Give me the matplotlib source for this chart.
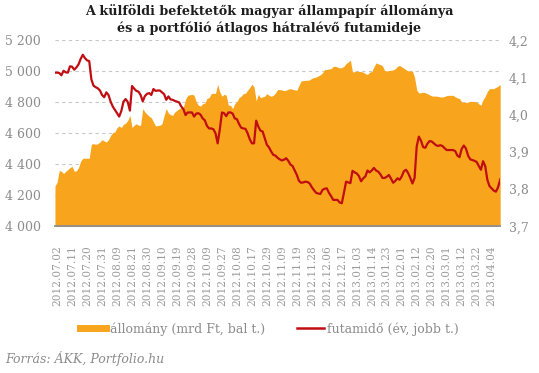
import matplotlib
matplotlib.use("Agg")
import matplotlib.pyplot as plt
from matplotlib.lines import Line2D
import numpy as np

# allomany (mrd Ft) es futamido (ev), kereskedesi napok sorszama szerint
allomany = [
    4260, 4285, 4360, 4355, 4340, 4355, 4366, 4379, 4386, 4355,
    4358, 4379, 4420, 4439, 4439, 4439, 4439, 4530, 4533, 4529,
    4533, 4544, 4559, 4550, 4544, 4559, 4587, 4604, 4609, 4637,
    4647, 4637, 4658, 4665, 4684, 4716, 4637, 4652, 4662, 4652,
    4652, 4759, 4738, 4723, 4710, 4701, 4673, 4647, 4650, 4652,
    4662, 4716, 4759, 4730, 4720, 4716, 4738, 4748, 4759, 4765,
    4770, 4820, 4845, 4848, 4852, 4845, 4802, 4781, 4775, 4791,
    4795, 4825, 4830, 4856, 4858, 4858, 4916, 4867, 4839, 4852,
    4845, 4781, 4781, 4759, 4791, 4805, 4830, 4840, 4856, 4858,
    4878, 4895, 4916, 4899, 4809, 4852, 4830, 4835, 4839, 4856,
    4845, 4839, 4845, 4860, 4882, 4882, 4880, 4875, 4878, 4885,
    4888, 4883, 4880, 4878, 4910, 4938, 4940, 4942, 4942, 4945,
    4955, 4960, 4963, 4970, 4978, 4990, 5011, 5012, 5015, 5017,
    5032, 5032, 5027, 5022, 5024, 5032, 5050, 5060, 5072, 4996,
    4998, 5000, 5000, 4998, 4994, 4985, 4979, 4995, 4998, 5028,
    5054, 5048, 5043, 5035, 5005, 5002, 5005, 5006, 5010, 5017,
    5032, 5038, 5028, 5020, 5010, 5002, 5002, 5002, 4960, 4880,
    4860, 4862, 4865, 4862, 4855, 4848, 4841, 4840, 4840, 4838,
    4834, 4834, 4838, 4843, 4845, 4845, 4845, 4835, 4828, 4824,
    4802, 4800, 4800, 4800, 4806, 4806, 4804, 4802, 4790, 4781,
    4817, 4839, 4870, 4888, 4888, 4888, 4897, 4903, 4916,
]

futamido = [
    4.113, 4.113, 4.112, 4.106, 4.118, 4.114, 4.113, 4.130, 4.129, 4.121,
    4.127, 4.135, 4.150, 4.161, 4.152, 4.146, 4.144, 4.095, 4.078, 4.074,
    4.071, 4.065, 4.053, 4.047, 4.060, 4.053, 4.035, 4.022, 4.013, 4.004,
    3.995, 4.010, 4.035, 4.042, 4.034, 4.011, 4.077, 4.070, 4.064, 4.062,
    4.053, 4.036, 4.050, 4.056, 4.058, 4.053, 4.069, 4.064, 4.065, 4.065,
    4.060, 4.055, 4.040, 4.049, 4.041, 4.040, 4.037, 4.035, 4.033, 4.022,
    4.015, 3.999, 4.006, 4.006, 4.006, 3.995, 4.003, 4.004, 4.000, 3.990,
    3.985, 3.970, 3.963, 3.963, 3.961, 3.950, 3.923, 3.960, 4.006, 4.004,
    3.996, 4.006, 4.006, 4.003, 3.990, 3.988, 3.975, 3.965, 3.963, 3.962,
    3.950, 3.934, 3.923, 3.923, 3.984, 3.968, 3.957, 3.955, 3.937, 3.919,
    3.912, 3.901, 3.892, 3.890, 3.884, 3.880, 3.877, 3.879, 3.883, 3.876,
    3.866, 3.862, 3.850, 3.838, 3.822, 3.817, 3.818, 3.820, 3.819, 3.815,
    3.805, 3.797, 3.790, 3.788, 3.787, 3.798, 3.801, 3.802, 3.790, 3.781,
    3.771, 3.771, 3.771, 3.764, 3.762, 3.790, 3.820, 3.818, 3.816, 3.849,
    3.845, 3.842, 3.835, 3.821, 3.829, 3.834, 3.850, 3.845, 3.850, 3.857,
    3.850, 3.847, 3.840, 3.830, 3.830, 3.833, 3.838, 3.828, 3.817, 3.822,
    3.829, 3.825, 3.834, 3.848, 3.852, 3.843, 3.830, 3.815, 3.830, 3.915,
    3.941, 3.930, 3.913, 3.911, 3.922, 3.929, 3.928, 3.923, 3.918, 3.916,
    3.918, 3.916, 3.910, 3.905, 3.905, 3.905, 3.905, 3.902, 3.890, 3.886,
    3.908, 3.917, 3.909, 3.890, 3.880, 3.878, 3.876, 3.873, 3.862, 3.852,
    3.875, 3.862, 3.825, 3.808, 3.802, 3.796, 3.793, 3.805, 3.826,
]

datumok = [
    "2012.07.02", "2012.07.11", "2012.07.20", "2012.07.31", "2012.08.09",
    "2012.08.21", "2012.08.30", "2012.09.10", "2012.09.19", "2012.09.28",
    "2012.10.09", "2012.09.27", "2012.10.08", "2012.10.17", "2012.10.29",
    "2012.11.09", "2012.11.19", "2012.11.28", "2012.12.06", "2012.12.17",
    "2013.01.03", "2013.01.14", "2013.01.23", "2013.02.01", "2013.02.12",
    "2013.02.20", "2013.03.01", "2013.03.12", "2013.03.22", "2013.04.04",
]
bal_tengely = [4000, 4200, 4400, 4600, 4800, 5000, 5200]
jobb_tengely = [3.7, 3.8, 3.9, 4.0, 4.1, 4.2]

NARANCS = "#F8A51D"
PIROS = "#C00D12"
SZURKE = "#8C8C8C"
SERIF = "DejaVu Serif"

napok = np.arange(len(allomany))

fig = plt.figure(figsize=(5.39, 3.73), dpi=100)
ax = fig.add_axes([0.102, 0.3933, 0.826, 0.4987])

ax.fill_between(napok, 4000, allomany, color=NARANCS, linewidth=0, zorder=1)
ax.set_xlim(0, len(allomany) - 1)
ax.set_ylim(4000, 5200)
ax.set_yticks(bal_tengely)
ax.set_yticklabels([f"{v:,}".replace(",", " ") for v in bal_tengely],
                   fontfamily=SERIF, fontsize=9, color=SZURKE)
ax.yaxis.grid(True, color="#C8C8C8", linestyle=(0, (3, 3)), linewidth=0.8)
ax.set_axisbelow(True)

tick_pos = napok[1::7][:len(datumok)]
ax.set_xticks(tick_pos)
ax.set_xticklabels(datumok, rotation=90, fontsize=7.6, color="#9A9A9A",
                   fontfamily=SERIF)
ax.tick_params(axis="both", length=0)
ax.tick_params(axis="x", pad=14)
ax.tick_params(axis="y", pad=10)

for s in ["top", "left", "right"]:
    ax.spines[s].set_visible(False)
ax.spines["bottom"].set_color("#8E8E8E")
ax.spines["bottom"].set_linewidth(1.3)
ax.spines["bottom"].set_zorder(3)

ax2 = ax.twinx()
ax2.plot(napok, futamido, color=PIROS, linewidth=1.6, zorder=3)
ax2.set_ylim(3.7, 4.2)
ax2.set_yticks(jobb_tengely)
ax2.set_yticklabels([f"{v:.1f}".replace(".", ",") for v in jobb_tengely],
                    fontfamily=SERIF, fontsize=9, color=SZURKE)
ax2.tick_params(axis="y", length=0, pad=6)
for s in ax2.spines.values():
    s.set_visible(False)

fig.text(0.5, 0.988, "A külföldi befektetők magyar állampapír állománya\n"
         "és a portfólió átlagos hátralévő futamideje",
         ha="center", va="top", fontfamily=SERIF, fontweight="bold",
         fontsize=9.2, color="#1E1E1E", linespacing=1.3)

kezek = [Line2D([], [], color=NARANCS, linewidth=5),
         Line2D([], [], color=PIROS, linewidth=1.8)]
fig.legend(kezek, ["állomány (mrd Ft, bal t.)", "futamidő (év, jobb t.)"],
           loc="center", bbox_to_anchor=(0.5, 1 - 329 / 373), ncol=2,
           frameon=False, handlelength=2.1, handletextpad=0.3,
           columnspacing=2.6,
           prop={"family": SERIF, "size": 9}, labelcolor=SZURKE)

fig.text(0.01, 1 - 358 / 373, "Forrás: ÁKK, Portfolio.hu", ha="left",
         va="center", fontfamily=SERIF, style="italic", fontsize=9,
         color=SZURKE)

fig.savefig("out.png", dpi=100)
